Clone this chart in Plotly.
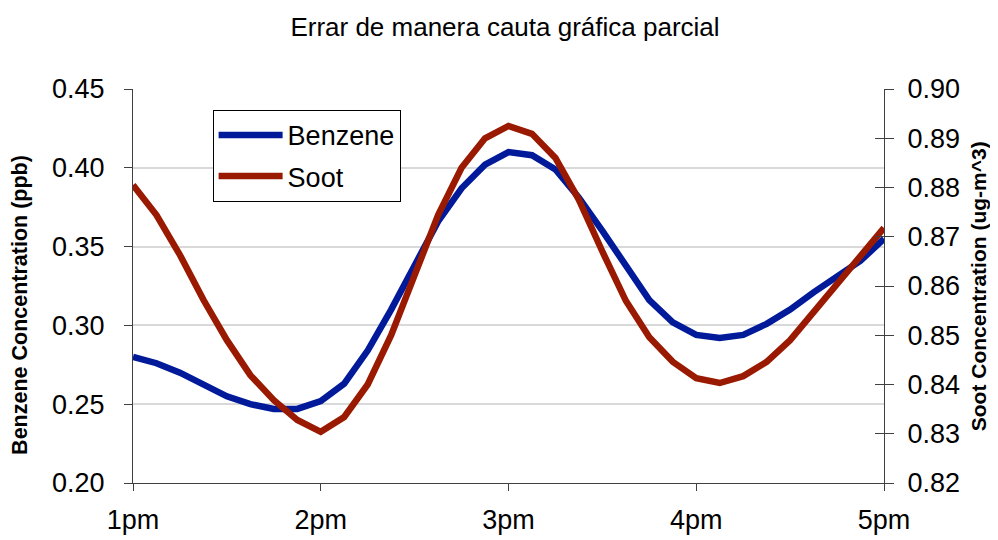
import plotly.graph_objects as go

hours = [13 + i / 8 for i in range(33)]

benzene = [0.280, 0.276, 0.270, 0.262, 0.255, 0.250, 0.247, 0.247, 0.252, 0.263,
           0.284, 0.310, 0.338, 0.366, 0.387, 0.402, 0.410, 0.408, 0.399, 0.381,
           0.360, 0.338, 0.316, 0.302, 0.294, 0.292, 0.294, 0.301, 0.310, 0.321,
           0.331, 0.341, 0.355]

soot = [0.8805, 0.8744, 0.8663, 0.8572, 0.8490, 0.8419, 0.8368, 0.8328, 0.8304, 0.8334,
        0.8400, 0.8500, 0.8622, 0.8744, 0.8840, 0.8900, 0.8925, 0.8909, 0.8860, 0.8775,
        0.8670, 0.8570, 0.8496, 0.8446, 0.8413, 0.8403, 0.8417, 0.8446, 0.8490, 0.8547,
        0.8602, 0.8657, 0.8718]

x_tick_vals = [13, 14, 15, 16, 17]
x_tick_text = ["1pm", "2pm", "3pm", "4pm", "5pm"]
left_ticks = [0.20, 0.25, 0.30, 0.35, 0.40, 0.45]
right_ticks = [0.82, 0.83, 0.84, 0.85, 0.86, 0.87, 0.88, 0.89, 0.90]

FONT = "Liberation Sans, Arial, sans-serif"
AX = "#404040"
TICKSIZE = 27

fig = go.Figure()
fig.add_trace(go.Scatter(x=hours, y=benzene, mode="lines", name="Benzene",
                         line=dict(color="#001A99", width=6.5), legendgroup="b"))
fig.add_trace(go.Scatter(x=hours, y=soot, mode="lines", name="Soot", yaxis="y2",
                         line=dict(color="#991A00", width=6.5), legendgroup="s"))
fig.add_trace(go.Scatter(x=[13], y=[0.85], yaxis="y3", mode="markers",
                         marker=dict(opacity=0), showlegend=False, hoverinfo="skip"))

fig.update_layout(
    width=990, height=532,
    margin=dict(l=125, r=114, t=81, b=57, autoexpand=False),
    paper_bgcolor="white", plot_bgcolor="white",
    font=dict(family=FONT, color="black"),
    title=dict(text="Errar de manera cauta gráfica parcial", x=0.502, xanchor="center",
               y=0.9643, yanchor="middle", font=dict(size=26, color="black")),
    xaxis=dict(range=[13, 17], tickvals=x_tick_vals, ticktext=x_tick_text,
               ticks="outside", ticklen=7, tickcolor=AX, showline=True, linecolor=AX,
               linewidth=1, showgrid=False, zeroline=False, ticklabelstandoff=6,
               tickfont=dict(size=TICKSIZE, family=FONT)),
    yaxis=dict(range=[0.20, 0.45], tickvals=left_ticks, tickformat=".2f",
               ticks="outside", ticklen=8, tickcolor=AX, showline=True, linecolor=AX,
               linewidth=1, showgrid=True, gridcolor="#D9D9D9", gridwidth=1.5,
               zeroline=False, ticklabelstandoff=14,
               tickfont=dict(size=TICKSIZE, family=FONT)),
    yaxis2=dict(range=[0.82, 0.90], tickvals=right_ticks, tickformat=".2f",
                overlaying="y", side="right", anchor="x",
                ticks="outside", ticklen=9, tickcolor=AX, showline=True, linecolor=AX,
                linewidth=1, showgrid=False, zeroline=False, ticklabelstandoff=8,
                tickfont=dict(size=TICKSIZE, family=FONT)),
    yaxis3=dict(range=[0.82, 0.90], tickvals=right_ticks, overlaying="y", side="right",
                anchor="x", ticks="inside", ticklen=9, tickcolor=AX, showticklabels=False,
                showgrid=False, zeroline=False, showline=False),
    legend=dict(x=0.106, y=0.947, xanchor="left", yanchor="top",
                bordercolor="black", borderwidth=1, bgcolor="white",
                font=dict(size=TICKSIZE, family=FONT), tracegroupgap=3,
                itemwidth=64),
    showlegend=True,
    annotations=[
        dict(text="<b>Benzene Concentration (ppb)</b>", xref="paper", yref="paper",
             x=-0.1505, y=0.452, xanchor="center", yanchor="middle", textangle=-90,
             showarrow=False, font=dict(size=21.5, family=FONT, color="black")),
        dict(text="<b>Soot Concentration (ug-m^3)</b>", xref="paper", yref="paper",
             x=1.1255, y=0.5, xanchor="center", yanchor="middle", textangle=-90,
             showarrow=False, font=dict(size=21, family=FONT, color="black")),
    ],
)

fig.write_html("out.html")
